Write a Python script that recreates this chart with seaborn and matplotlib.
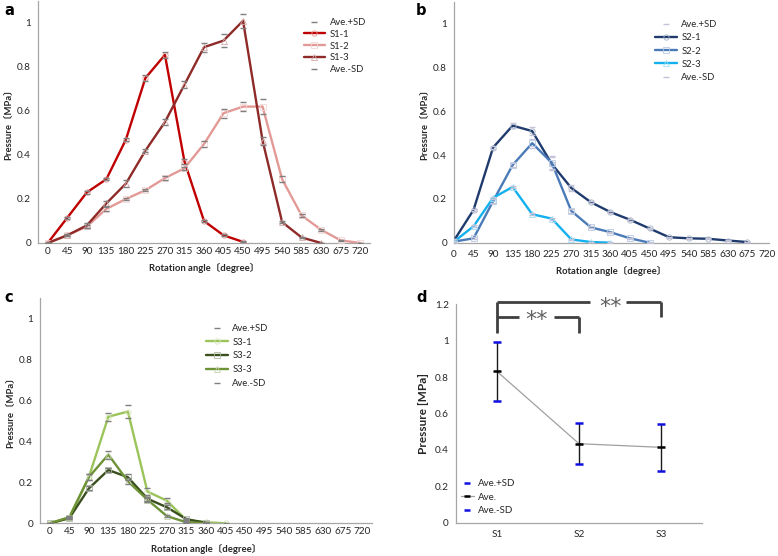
import numpy as np
import pandas as pd
import matplotlib
matplotlib.use("Agg")
import matplotlib.pyplot as plt
import seaborn as sns
from matplotlib.lines import Line2D
from matplotlib.colors import to_rgb

# ---------------- data ----------------
angles_all = [0, 45, 90, 135, 180, 225, 270, 315, 360, 405, 450, 495, 540, 585, 630, 675, 720]
angle_ticklabels = [str(a) for a in angles_all]

# panel a
s1_1 = [0, 0.115, 0.23, 0.29, 0.47, 0.75, 0.855, 0.37, 0.10, 0.035, 0.005]
s1_2 = [0, 0.035, 0.075, 0.155, 0.20, 0.24, 0.295, 0.34, 0.45, 0.59, 0.62, 0.62, 0.29, 0.125, 0.06, 0.012, 0.0]
s1_3 = [0, 0.035, 0.08, 0.18, 0.27, 0.42, 0.55, 0.72, 0.89, 0.92, 1.01, 0.465, 0.095, 0.025, 0.0]
sd1_1 = [0, 0.005, 0.006, 0.005, 0.008, 0.015, 0.015, 0.012, 0.005, 0.004, 0.002]
sd1_2 = [0, 0.004, 0.006, 0.008, 0.005, 0.004, 0.008, 0.006, 0.012, 0.02, 0.022, 0.033, 0.015, 0.005, 0.004, 0.003, 0.001]
sd1_3 = [0, 0.004, 0.012, 0.01, 0.015, 0.008, 0.015, 0.015, 0.02, 0.03, 0.033, 0.018, 0.005, 0.003, 0.001]

# panel b
s2_1 = [0.01, 0.15, 0.435, 0.535, 0.51, 0.36, 0.25, 0.185, 0.14, 0.105, 0.065, 0.025, 0.02, 0.018, 0.01, 0.003]
s2_2 = [0.005, 0.02, 0.19, 0.355, 0.455, 0.365, 0.145, 0.07, 0.048, 0.02, 0.0]
s2_3 = [0.005, 0.075, 0.205, 0.255, 0.13, 0.11, 0.015, 0.003, 0.0]
sd2_1 = [0.005, 0.005, 0.005, 0.01, 0.02, 0.03, 0.015, 0.005, 0.004, 0.004, 0.004, 0.003, 0.003, 0.002, 0.002, 0.002]
sd2_2 = [0.003, 0.004, 0.01, 0.01, 0.02, 0.03, 0.01, 0.005, 0.003, 0.002, 0.001]
sd2_3 = [0.003, 0.004, 0.005, 0.005, 0.005, 0.005, 0.003, 0.001, 0.001]

# panel c
s3_1 = [0, 0.025, 0.225, 0.52, 0.545, 0.155, 0.11, 0.015, 0.005, 0.0]
s3_2 = [0, 0.025, 0.17, 0.26, 0.225, 0.12, 0.078, 0.02, 0.003]
s3_3 = [0, 0.03, 0.225, 0.335, 0.205, 0.115, 0.035, 0.005, 0.0]
sd3_1 = [0.002, 0.005, 0.015, 0.02, 0.03, 0.015, 0.012, 0.005, 0.003, 0.001]
sd3_2 = [0.002, 0.004, 0.01, 0.012, 0.015, 0.01, 0.01, 0.005, 0.002]
sd3_3 = [0.002, 0.004, 0.015, 0.02, 0.015, 0.01, 0.005, 0.003, 0.001]

# panel d
groups = ["S1", "S2", "S3"]
ave = [0.832, 0.434, 0.414]
ave_plus = [0.995, 0.55, 0.54]
ave_minus = [0.668, 0.32, 0.286]

# ---------------- style ----------------
sns.set_theme(style="white")
plt.rcParams["font.family"] = ["Lato", "Noto Sans CJK JP", "DejaVu Sans"]
AX_GRAY = "#A6A6A6"
TXT = "#262626"

fig = plt.figure(figsize=(7.78, 5.56), dpi=100)
W, H = 778, 556


def lighten(c, f=0.6):
    r, g, b = to_rgb(c)
    return (r + (1 - r) * f, g + (1 - g) * f, b + (1 - b) * f)


def add_axes_px(left, right, top, bottom):
    return fig.add_axes([left / W, 1 - bottom / H, (right - left) / W, (bottom - top) / H])


def style_axes(ax):
    for s in ["top", "right"]:
        ax.spines[s].set_visible(False)
    for s in ["left", "bottom"]:
        ax.spines[s].set_color(AX_GRAY)
        ax.spines[s].set_linewidth(0.9)
    ax.tick_params(axis="both", which="both", colors=AX_GRAY, labelcolor=TXT,
                   labelsize=7.2, width=0.8)
    ax.tick_params(axis="y", which="major", length=3, direction="out", pad=2)


def angle_panel(ax, series, names, colors, markers, sd_lists, dash_color, category_axis,
                legend_xy, lspacing):
    rows = []
    for name, vals, sds in zip(names, series, sd_lists):
        for a, v, s in zip(angles_all, vals, sds):
            rows.append({"angle": a, "value": v, "series": name, "plus": v + s, "minus": v - s})
    df = pd.DataFrame(rows)
    for name, col, mk in zip(names, colors, markers):
        sub = df[df.series == name]
        sns.lineplot(data=sub, x="angle", y="value", ax=ax, color=col, lw=1.7,
                     marker=mk, markersize=3.8, markerfacecolor="none",
                     markeredgecolor=lighten(col, 0.6), markeredgewidth=0.6, label=name,
                     zorder=3)
    sns.scatterplot(data=df, x="angle", y="plus", ax=ax, marker="_", s=14,
                    color=dash_color, linewidth=1.0, label="Ave.+SD", zorder=4)
    sns.scatterplot(data=df, x="angle", y="minus", ax=ax, marker="_", s=14,
                    color=dash_color, linewidth=1.0, label="Ave.-SD", zorder=4)
    style_axes(ax)
    ax.set_ylim(0, 1.1)
    ax.set_yticks([0, 0.2, 0.4, 0.6, 0.8, 1.0])
    ax.set_yticklabels(["0", "0.2", "0.4", "0.6", "0.8", "1"])
    ax.set_xticks(angles_all)
    ax.set_xticklabels(angle_ticklabels)
    if category_axis:
        ax.set_xlim(-22.5, 742.5)
        ax.set_xticks([-22.5 + 45 * k for k in range(18)], minor=True)
        ax.tick_params(axis="x", which="major", length=0, pad=3)
        ax.tick_params(axis="x", which="minor", length=3, direction="out")
    else:
        ax.set_xlim(0, 725)
        ax.tick_params(axis="x", which="major", length=3, direction="out", pad=2)
    ax.set_xlabel("Rotation angle〔degree〕", fontsize=6.8, fontweight="bold", color=TXT, labelpad=5)
    ax.set_ylabel("Pressure〔MPa〕", fontsize=6.8, fontweight="bold", color=TXT, labelpad=3)
    order = ["Ave.+SD"] + list(names) + ["Ave.-SD"]
    leg_h = []
    for o in order:
        if o.startswith("Ave"):
            leg_h.append(Line2D([], [], ls="none", marker="_", color=dash_color, markersize=4, mew=1.0))
        else:
            i = names.index(o)
            leg_h.append(Line2D([], [], color=colors[i], lw=1.7, marker=markers[i], markersize=3.8,
                                markerfacecolor="none", markeredgecolor=lighten(colors[i], 0.6),
                                markeredgewidth=0.6))
    leg = ax.legend(leg_h, order, loc="upper left", bbox_to_anchor=legend_xy, frameon=False,
                    fontsize=6.8, handlelength=2.3, handletextpad=0.5, labelspacing=lspacing,
                    borderpad=0, borderaxespad=0)
    for t in leg.get_texts():
        t.set_color(TXT)


# panel a
ax_a = add_axes_px(38, 370, 1, 243)
angle_panel(ax_a, [s1_1, s1_2, s1_3], ["S1-1", "S1-2", "S1-3"],
            ["#C00000", "#E39A97", "#8E2A28"], ["o", "s", "^"],
            [sd1_1, sd1_2, sd1_3], "#7F7F7F", True, (0.80, 0.93), 0.3)

# panel b
ax_b = add_axes_px(454, 769, 2, 242.7)
angle_panel(ax_b, [s2_1, s2_2, s2_3], ["S2-1", "S2-2", "S2-3"],
            ["#1F3B6E", "#4A7AB8", "#12B0EE"], ["o", "s", "^"],
            [sd2_1, sd2_2, sd2_3], "#C4C4D8", False, (0.638, 0.925), 0.45)

# panel c
ax_c = add_axes_px(40, 372, 297.8, 523.3)
angle_panel(ax_c, [s3_1, s3_2, s3_3], ["S3-1", "S3-2", "S3-3"],
            ["#9BC45A", "#3A4F1E", "#6E9236"], ["o", "s", "^"],
            [sd3_1, sd3_2, sd3_3], "#7F7F7F", True, (0.50, 0.884), 0.5)

# panel d
ax_d = add_axes_px(455.7, 702.3, 304.3, 522.7)
ddf = pd.DataFrame({"group": groups, "ave": ave, "plus": ave_plus, "minus": ave_minus})
sns.lineplot(data=ddf, x="group", y="ave", ax=ax_d, color="#A0A0A0", lw=0.9, sort=False, zorder=2)
ax_d.vlines(ddf["group"], ddf["minus"], ddf["plus"], color="#1A1A1A", lw=1.0, zorder=3)
sns.scatterplot(data=ddf, x="group", y="plus", ax=ax_d, marker="_", s=30, color="#1010E0",
                linewidth=1.8, zorder=4)
sns.scatterplot(data=ddf, x="group", y="minus", ax=ax_d, marker="_", s=30, color="#1010E0",
                linewidth=1.8, zorder=4)
sns.scatterplot(data=ddf, x="group", y="ave", ax=ax_d, marker="_", s=30, color="#000000",
                linewidth=1.8, zorder=5)
style_axes(ax_d)
ax_d.set_xlim(-0.5, 2.5)
ax_d.set_ylim(0, 1.2)
ax_d.set_yticks([0, 0.2, 0.4, 0.6, 0.8, 1.0, 1.2])
ax_d.set_yticklabels(["0", "0.2", "0.4", "0.6", "0.8", "1", "1.2"])
ax_d.set_xticks([-0.5, 0.5, 1.5, 2.5], minor=True)
ax_d.tick_params(axis="x", which="major", length=0, pad=5)
ax_d.tick_params(axis="x", which="minor", length=3, direction="out")
ax_d.set_xlabel("")
ax_d.set_ylabel("Pressure [MPa]", fontsize=8.5, fontweight="bold", color=TXT, labelpad=4)

br = "#404040"
kw = dict(color=br, lw=2.0, clip_on=False, solid_capstyle="butt")
ax_d.plot([0, 0], [1.21, 1.044], **kw)
ax_d.plot([0, 1.13], [1.21, 1.21], **kw)
ax_d.plot([1.57, 2.0], [1.21, 1.21], **kw)
ax_d.plot([2.0, 2.0], [1.21, 1.128], **kw)
ax_d.plot([0, 0.27], [1.132, 1.132], **kw)
ax_d.plot([0.69, 1.0], [1.132, 1.132], **kw)
ax_d.plot([1.0, 1.0], [1.132, 1.044], **kw)
ax_d.text(1.38, 1.185, "**", ha="center", va="center", fontsize=16, color="#606060",
          family="DejaVu Sans", clip_on=False)
ax_d.text(0.48, 1.112, "**", ha="center", va="center", fontsize=16, color="#606060",
          family="DejaVu Sans", clip_on=False)

dh = [Line2D([], [], ls="none", marker="_", color="#1010E0", markersize=5, mew=1.8),
      Line2D([], [], color="#A0A0A0", lw=0.9, marker="_", markeredgecolor="#000000", markersize=5, mew=1.8),
      Line2D([], [], ls="none", marker="_", color="#1010E0", markersize=5, mew=1.8)]
legd = ax_d.legend(dh, ["Ave.+SD", "Ave.", "Ave.-SD"], loc="upper left", bbox_to_anchor=(0.02, 0.199),
                   frameon=False, fontsize=7, handlelength=1.4, handletextpad=0.4,
                   labelspacing=0.45, borderpad=0, borderaxespad=0)
for t in legd.get_texts():
    t.set_color(TXT)

# panel letters
for txt, x, y in [("a", 4, 3), ("b", 416, 3), ("c", 4, 290), ("d", 416, 290)]:
    fig.text(x / W, 1 - y / H, txt, fontsize=10.5, fontweight="bold", va="top", ha="left",
             family="DejaVu Sans", color="#000000")

fig.savefig("out.png", dpi=100)
